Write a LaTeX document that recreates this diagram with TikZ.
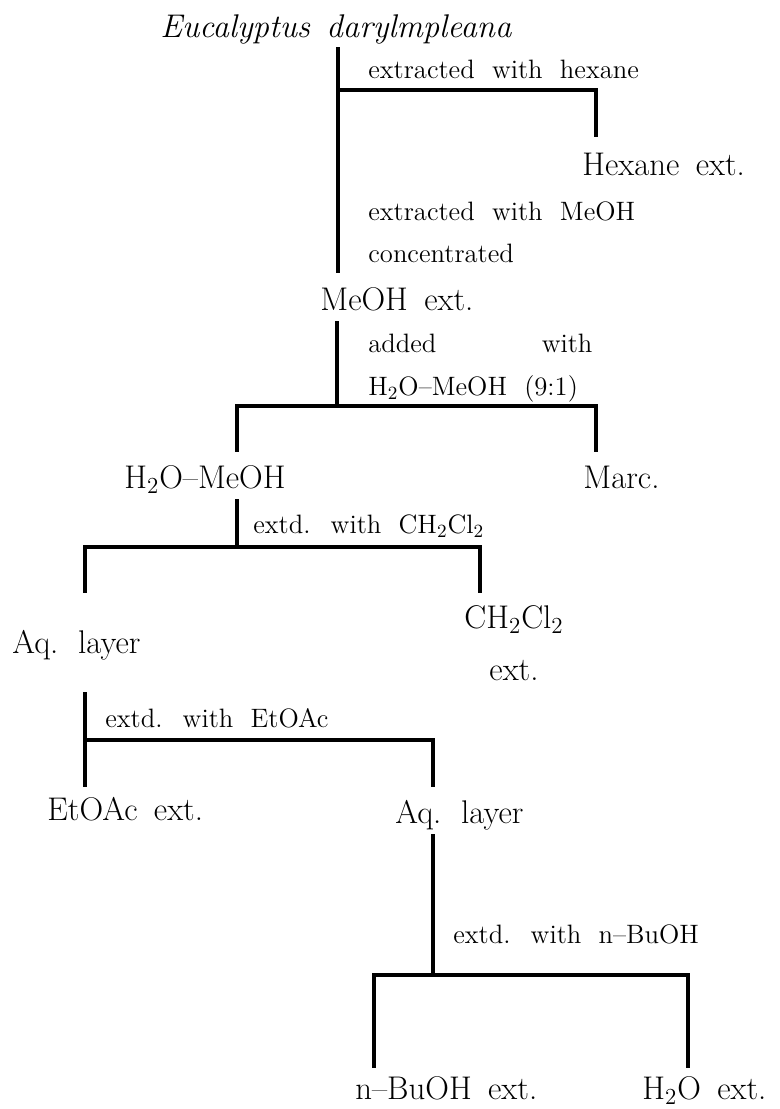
\documentclass[tikz,border=0pt]{standalone}

\newcommand\tamgrande{\fontsize{16.4}{26}\selectfont\spaceskip=.5em\relax}
\newcommand\tamchico{\fontsize{13.3}{16}\selectfont\spaceskip=.65em\relax}

\begin{document}
\begin{tikzpicture}[x=0.5pt, y=-0.5pt,
    grande/.style={font=\tamgrande, inner sep=0pt, text height=12pt, text depth=3pt, anchor=base west},
    chico/.style={font=\tamchico, inner sep=0pt, anchor=base west},
    linea/.style={line width=2.2pt}]
    \useasboundingbox (0,0) rectangle (780,1109);

    % Muestras
    \node[grande, font=\tamgrande\itshape] (titulo) at (160,37) {Eucalyptus darylmpleana};
    \node[grande] (hexano) at (582,175) {Hexane ext.};
    \node[grande] (metanol) at (320,310) {MeOH ext.};
    \node[grande] (aguametanol) at (124,488) {H\textsubscript{2}O--MeOH};
    \node[grande] (marc) at (583,488) {Marc.};
    \node[grande] (acuosa1) at (12,653) {Aq. layer};
    \node[font=\tamgrande, inner sep=0pt, align=center, anchor=north] (diclo) at (514,605) {CH\textsubscript{2}Cl\textsubscript{2}\\ext.};
    \node[grande] (acetato) at (47,820) {EtOAc ext.};
    \node[grande] (acuosa2) at (395,823) {Aq. layer};
    \node[grande] (butanol) at (355,1099) {n--BuOH ext.};
    \node[grande] (agua) at (642,1099) {H\textsubscript{2}O ext.};

    % Etiquetas de los pasos
    \node[chico] (paso1) at (368,78) {extracted with hexane};
    \node[chico] (paso2) at (368,220) {extracted with MeOH};
    \node[chico] (paso3) at (368,262) {concentrated};
    \node[chico] (paso4) at (368,352) {\makebox[112pt][l]{added\hfill with}};
    \node[chico] (paso5) at (368,395) {H\textsubscript{2}O--MeOH (9:1)};
    \node[chico] (paso6) at (253,533) {extd. with CH\textsubscript{2}Cl\textsubscript{2}};
    \node[chico] (paso7) at (105,727) {extd. with EtOAc};
    \node[chico] (paso8) at (453,943) {extd. with n--BuOH};

    % Puntos de separacion
    \coordinate (j1) at (338,90);
    \coordinate (j2) at (337,406);
    \coordinate (j3) at (237,547);
    \coordinate (j4) at (85,740);
    \coordinate (j5) at (433,975);

    % Lineas
    \draw[linea, shorten <=2pt, shorten >=6.5pt] (titulo.south -| j1) -- (metanol.north -| j1);
    \draw[linea, shorten >=7pt] (j1) -| ([xshift=7pt]hexano.north west);

    \draw[linea, shorten <=2.5pt] (metanol.south -| j2) -- (j2);
    \draw[linea, shorten <=6pt, shorten >=6pt] ([xshift=56.5pt]aguametanol.north west) |- (j2) -| ([xshift=6.5pt]marc.north west);

    \draw[linea, shorten <=2.5pt] (aguametanol.south -| j3) -- (j3);
    \draw[linea, shorten <=18pt, shorten >=6pt] ([xshift=36.5pt]acuosa1.north west) |- (j3) -| ([xshift=8pt]diclo.north west);

    \draw[linea, shorten <=16.5pt, shorten >=4.5pt] (acuosa1.south -| j4) -- (acetato.north -| j4);
    \draw[linea, shorten >=6pt] (j4) -| ([xshift=19pt]acuosa2.north west);

    \draw[linea, shorten <=2.5pt] (acuosa2.south -| j5) -- (j5);
    \draw[linea, shorten <=3.5pt, shorten >=3.5pt] ([xshift=9.5pt]butanol.north west) |- (j5) -| ([xshift=23pt]agua.north west);
\end{tikzpicture}
\end{document}
